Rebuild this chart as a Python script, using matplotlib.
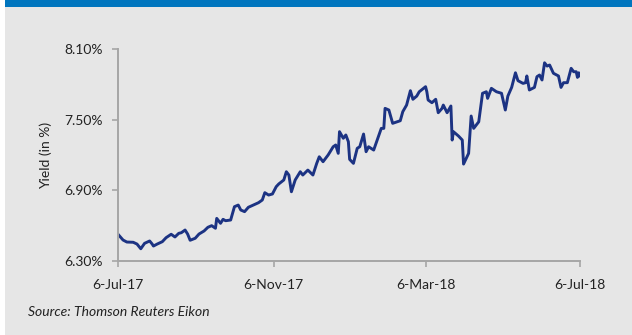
import numpy as np
import pandas as pd
import matplotlib
matplotlib.use('Agg')
from matplotlib import pyplot as plt
from matplotlib.patches import Rectangle

# days after 6-Jul-17 and 10y yield (%)
days = [0, 4, 7, 12, 15, 18, 21, 25, 27, 28, 31, 35, 38, 42, 45, 48, 50, 53, 55, 57,
        61, 64, 68, 71, 74, 77, 78, 81, 83, 85, 89, 92, 95, 97, 100, 103, 107, 111, 114, 116,
        119, 122, 125, 127, 131, 133, 135, 137, 140, 144, 146, 150, 154, 157, 159, 162, 166, 170, 172, 174,
        175, 178, 180, 182, 183, 186, 189, 191, 194, 196, 198, 202, 208, 210, 211, 214, 217, 223, 225, 228,
        231, 233, 236, 238, 243, 244, 245, 248, 251, 253, 256, 257, 260, 263, 264, 265, 269, 272, 273, 277,
        279, 281, 285, 288, 291, 292, 295, 299, 303, 306, 308, 311, 314, 316, 320, 322, 323, 325, 329, 331,
        333, 335, 337, 339, 341, 344, 348, 350, 352, 355, 358, 360, 362, 363, 364, 365]
yields = [6.527, 6.478, 6.461, 6.459, 6.444, 6.404, 6.450, 6.470, 6.444, 6.427, 6.444, 6.464, 6.498, 6.527, 6.504, 6.535, 6.540, 6.563, 6.529, 6.476,
          6.493, 6.529, 6.555, 6.586, 6.600, 6.578, 6.662, 6.620, 6.654, 6.642, 6.648, 6.761, 6.775, 6.733, 6.719, 6.756, 6.775, 6.795, 6.818, 6.880,
          6.860, 6.869, 6.931, 6.954, 6.988, 7.058, 7.030, 6.888, 6.988, 7.058, 7.030, 7.072, 7.030, 7.129, 7.185, 7.143, 7.200, 7.270, 7.285, 7.214,
          7.398, 7.342, 7.370, 7.313, 7.163, 7.129, 7.257, 7.270, 7.378, 7.228, 7.270, 7.242, 7.426, 7.426, 7.596, 7.582, 7.469, 7.491, 7.568, 7.624,
          7.746, 7.673, 7.700, 7.737, 7.780, 7.737, 7.667, 7.644, 7.673, 7.559, 7.596, 7.624, 7.559, 7.616, 7.327, 7.398, 7.361, 7.327, 7.123, 7.214,
          7.531, 7.426, 7.482, 7.724, 7.737, 7.681, 7.766, 7.737, 7.724, 7.582, 7.700, 7.774, 7.898, 7.831, 7.808, 7.814, 7.871, 7.752, 7.774, 7.865,
          7.879, 7.837, 7.983, 7.955, 7.964, 7.894, 7.871, 7.774, 7.814, 7.814, 7.936, 7.907, 7.907, 7.859, 7.898, 7.873]

start_date = pd.Timestamp('2017-07-06')
tick_dates = ['2017-07-06', '2017-11-06', '2018-03-06', '2018-07-06']
tick_labels = ['6-Jul-17', '6-Nov-17', '6-Mar-18', '6-Jul-18']
y_ticks = [6.30, 6.90, 7.50, 8.10]

dates = start_date + pd.to_timedelta(days, unit='D')

plt.rcParams['font.family'] = ['Lato', 'DejaVu Sans']

fig = plt.figure(figsize=(6.32, 3.35), dpi=100, facecolor='white')
W, H = 632, 335
# grey panel and blue top strip
fig.patches.append(Rectangle((5 / W, 0), 1 - 5 / W, 1, transform=fig.transFigure,
                             facecolor='#e6e6e6', edgecolor='none', zorder=-2))
fig.patches.append(Rectangle((5 / W, 1 - 7 / H), 1 - 5 / W, 7 / H, transform=fig.transFigure,
                             facecolor='#0075be', edgecolor='none', zorder=-1))

ax = fig.add_axes([118 / W, 1 - 261 / H, (580 - 118) / W, (261 - 49) / H])
ax.set_facecolor('none')
ax.set_zorder(5)

ax.plot(dates, yields, color='#1c3383', linewidth=2.1, solid_joinstyle='round')

ax.set_xlim(pd.Timestamp(tick_dates[0]), pd.Timestamp(tick_dates[-1]))
ax.set_ylim(6.30, 8.10)
ax.set_xticks(pd.to_datetime(tick_dates))
ax.set_xticklabels(tick_labels)
ax.set_yticks(y_ticks)
ax.set_yticklabels(['%.2f%%' % v for v in y_ticks])

for s in ['top', 'right']:
    ax.spines[s].set_visible(False)
for s in ['left', 'bottom']:
    ax.spines[s].set_color('#a6a6a6')
    ax.spines[s].set_linewidth(1.4)
ax.tick_params(axis='both', colors='#a6a6a6', width=1.2, length=4, labelcolor='#222222', labelsize=10)
ax.tick_params(axis='y', pad=7)
ax.tick_params(axis='x', pad=9)

ax.set_ylabel('Yield (in %)', fontsize=10, color='#222222', labelpad=9)

fig.text(28 / W, 1 - 312 / H, 'Source: Thomson Reuters Eikon', fontsize=10, style='italic',
         color='#222222', va='center', ha='left')

plt.savefig('out.png', dpi=100, facecolor=fig.get_facecolor())
